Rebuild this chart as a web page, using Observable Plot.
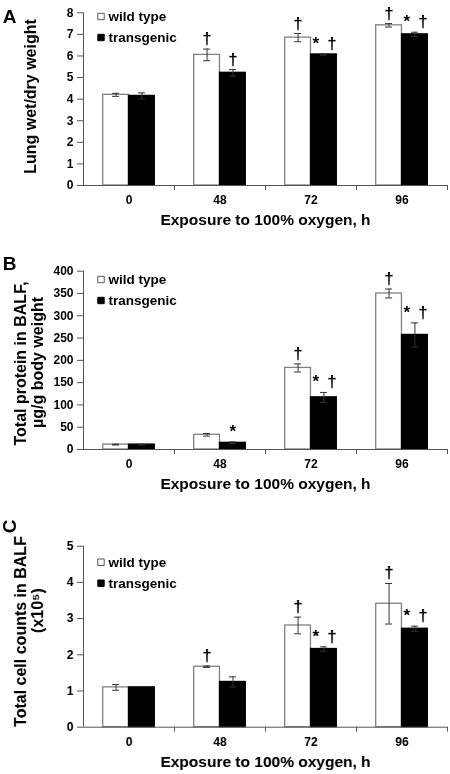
<!DOCTYPE html>
<html><head><meta charset="utf-8">
<script src="https://cdn.jsdelivr.net/npm/d3@7"></script>
<script src="https://cdn.jsdelivr.net/npm/@observablehq/plot@0.6"></script>
<style>
body{margin:0;background:#fff}
#chart svg{display:block;filter:grayscale(1)}
</style>
</head><body><div id="chart"></div>
<script>
// ---- data ----
const categories = ["0", "48", "72", "96"];
const seriesNames = ["wild type", "transgenic"];
const xLabel = "Exposure to 100% oxygen, h";

// Panel A: lung wet/dry weight
const aWild = [4.2, 6.05, 6.85, 7.42];
const aWildErr = [0.07, 0.27, 0.19, 0.08];
const aTrans = [4.15, 5.22, 6.07, 7.0];
const aTransErr = [0.14, 0.15, 0.03, 0.1];
const aWildSig = ["", "†", "†", "†"];
const aTransSig = ["", "†", "*†", "*†"];
const aTicks = [0, 1, 2, 3, 4, 5, 6, 7, 8];
const aLabel = ["Lung wet/dry weight"];

// Panel B: total protein in BALF
const bWild = [11, 33, 183, 350];
const bWildErr = [1, 3, 9, 10];
const bTrans = [11, 15, 117, 257];
const bTransErr = [1, 2, 11, 27];
const bWildSig = ["", "", "†", "†"];
const bTransSig = ["", "*", "*†", "*†"];
const bTicks = [0, 50, 100, 150, 200, 250, 300, 350, 400];
const bLabel = ["Total protein in BALF,", "\u00b5g/g body weight"];

// Panel C: total cell counts in BALF
const cWild = [1.1, 1.67, 2.81, 3.41];
const cWildErr = [0.08, 0.02, 0.23, 0.56];
const cTrans = [1.1, 1.25, 2.16, 2.72];
const cTransErr = [0, 0.14, 0.06, 0.07];
const cWildSig = ["", "†", "†", "†"];
const cTransSig = ["", "", "*†", "*†"];
const cTicks = [0, 1, 2, 3, 4, 5];
const cLabel = ["Total cell counts in BALF", "(x10\u2075)"];

// ---- drawing ----
const W = 450, ML = 83, MR = 3;
const step = (W - ML - MR) / categories.length;
const off = step * 0.142;       // bar centre offset from band centre
const barW = step * 0.283;
const capW = 7;
const axisColor = "#555";

function panel(cfg) {
  const rows = categories.map((c, i) => ({
    cat: c,
    wild: cfg.wild[i], wildErr: cfg.wildErr[i], wildSig: cfg.wildSig[i],
    trans: cfg.trans[i], transErr: cfg.transErr[i], transSig: cfg.transSig[i]
  }));
  const yMax = cfg.ticks[cfg.ticks.length - 1];
  const sides = [
    {key: "wild", dx: -off, fill: "white", stroke: "#808080"},
    {key: "trans", dx: off, fill: "black", stroke: "black"}
  ];
  const marks = [];
  // bars
  for (const s of sides) {
    const inL = step / 2 + s.dx - barW / 2;
    const inR = step / 2 - s.dx - barW / 2;
    marks.push(Plot.barY(rows, {x: "cat", y: s.key, fill: s.fill, stroke: s.stroke, strokeWidth: 1.3, insetLeft: inL, insetRight: inR}));
  }
  // error bars + significance
  for (const s of sides) {
    const ek = s.key + "Err", sk = s.key + "Sig";
    const data = rows.filter(d => d[ek] > 0);
    const col = "#333";
    const top = d => d[s.key] + d[ek];
    marks.push(Plot.ruleX(data, {x: "cat", y1: d => d[s.key] - d[ek], y2: top, dx: s.dx, stroke: col, strokeWidth: 1}));
    for (const sign of [-1, 1]) {
      marks.push(Plot.tickY(data, {x: "cat", y: d => d[s.key] + sign * d[ek], dx: s.dx, insetLeft: (step - capW) / 2, insetRight: (step - capW) / 2, stroke: col, strokeWidth: 1}));
    }
    const both = rows.filter(d => d[sk].length === 2);
    const single = rows.filter(d => d[sk].length === 1);
    const txt = {x: "cat", y: top, dy: -5, lineAnchor: "bottom", fontSize: 17, fill: "black"};
    marks.push(Plot.text(single, {...txt, text: sk, dx: s.dx}));
    marks.push(Plot.text(both, {...txt, text: () => "*", dx: s.dx - 8}));
    marks.push(Plot.text(both, {...txt, text: () => "†", dx: s.dx + 8}));
  }
  // axes
  marks.push(Plot.ruleY([0], {stroke: axisColor}));
  marks.push(Plot.ruleX([categories[0]], {x: d => d, dx: -step / 2, y1: 0, y2: yMax, stroke: axisColor}));
  marks.push(Plot.ruleX(categories, {x: d => d, dx: step / 2, y1: 0, y2: 0, insetBottom: -5, stroke: axisColor}));
  marks.push(Plot.axisY({ticks: cfg.ticks, tickFormat: d => String(d), tickSize: 6, tickPadding: 4, fontSize: 12, stroke: axisColor, label: null}));
  marks.push(Plot.axisX({tickSize: 0, tickPadding: 10, fontSize: 12, label: null}));
  marks.push(Plot.text([xLabel], {frameAnchor: "bottom", lineAnchor: "middle", textAnchor: "middle", dy: 35, fontSize: 15.5}));
  // y label lines
  cfg.yLabel.forEach((t, i) => {
    marks.push(Plot.text([t], {frameAnchor: "top-left", textAnchor: "middle", lineAnchor: "middle", rotate: -90,
      dx: cfg.yLabelPos[i][0] - ML, dy: cfg.yLabelPos[i][1] - cfg.mt, fontSize: 16}));
  });
  // panel letter
  marks.push(Plot.text([cfg.letter], {frameAnchor: "top-left", textAnchor: "middle", lineAnchor: "middle",
    dx: 9 - ML, dy: cfg.letterY - cfg.mt, fontSize: 19, rotate: cfg.letterRotate || 0}));
  // legend
  seriesNames.forEach((name, i) => {
    const dy = cfg.legendY - cfg.mt + i * 21;
    marks.push(Plot.dot([name], {frameAnchor: "top-left", dx: 17.5, dy, symbol: "square", r: 3.6, fill: i === 0 ? "white" : "black", stroke: i === 0 ? "#555" : "black", strokeWidth: 1}));
    marks.push(Plot.text([name], {frameAnchor: "top-left", dx: 25, dy, textAnchor: "start", lineAnchor: "middle", fontSize: 13.5}));
  });
  return Plot.plot({
    width: W, height: cfg.height,
    marginLeft: ML, marginRight: MR, marginTop: cfg.mt, marginBottom: cfg.mb,
    style: {fontFamily: "'Liberation Sans', Arial, sans-serif", fontWeight: "bold", color: "black", background: "white", overflow: "visible"},
    x: {type: "band", domain: categories, padding: 0, axis: null},
    y: {domain: [0, yMax], axis: null},
    marks
  });
}

const root = document.getElementById("chart");
root.append(panel({
  wild: aWild, wildErr: aWildErr, trans: aTrans, transErr: aTransErr, wildSig: aWildSig, transSig: aTransSig,
  ticks: aTicks, yLabel: aLabel, yLabelPos: [[30, 96]], letter: "A", letterY: 16, legendY: 16,
  height: 250, mt: 12.3, mb: 65
}));
root.append(panel({
  wild: bWild, wildErr: bWildErr, trans: bTrans, transErr: bTransErr, wildSig: bWildSig, transSig: bTransSig,
  ticks: bTicks, yLabel: bLabel, yLabelPos: [[20, 113], [37, 112]], letter: "B", letterY: 13, legendY: 29,
  height: 260, mt: 20.7, mb: 61
}));
root.append(panel({
  wild: cWild, wildErr: cWildErr, trans: cTrans, transErr: cTransErr, wildSig: cWildSig, transSig: cTransSig,
  ticks: cTicks, yLabel: cLabel, yLabelPos: [[20, 121], [37, 100]], letter: "C", letterY: 16, letterRotate: -90, legendY: 51.7,
  height: 264, mt: 35.7, mb: 47.3
}));
</script>
</body></html>
